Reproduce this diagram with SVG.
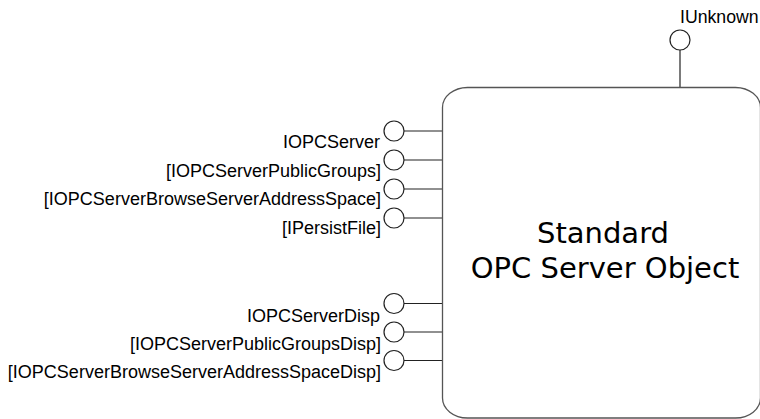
<svg xmlns="http://www.w3.org/2000/svg" width="760" height="419" viewBox="0 0 760 419">
  <style>
    .lbl { font-family: "Liberation Sans", Arial, sans-serif; font-size: 18px; fill: #000; }
    .lbl-r { text-anchor: end; }
    .title { font-family: "DejaVu Sans", Verdana, sans-serif; font-size: 29px; fill: #000; text-anchor: middle; }
    .lollipop { fill: #fff; stroke: #222; stroke-width: 1.2; }
    .wire { stroke: #222; stroke-width: 1.2; fill: none; }
    .body { fill: #fff; stroke: #555; stroke-width: 1.3; }
  </style>
  <rect width="760" height="419" fill="#fff"/>

  <!-- interface stems -->
  <g id="connectors">
    <line class="wire" x1="680" y1="50" x2="680" y2="87.5"/>
    <line class="wire" x1="404" y1="131" x2="442.5" y2="131"/>
    <line class="wire" x1="404" y1="160" x2="442.5" y2="160"/>
    <line class="wire" x1="404" y1="189" x2="442.5" y2="189"/>
    <line class="wire" x1="404" y1="218" x2="442.5" y2="218"/>
    <line class="wire" x1="404" y1="303.5" x2="442.5" y2="303.5"/>
    <line class="wire" x1="404" y1="332" x2="442.5" y2="332"/>
    <line class="wire" x1="404" y1="360.5" x2="442.5" y2="360.5"/>
  </g>

  <!-- server object body -->
  <g id="server-object">
    <rect class="body" x="442.5" y="87.5" width="318" height="330.5" rx="25" ry="20"/>
    <text class="title" x="603" y="243">Standard</text>
    <text class="title" x="605" y="278">OPC Server Object</text>
  </g>

  <g id="iunknown">
    <circle class="lollipop" cx="680" cy="40" r="10"/>
    <text class="lbl" x="680" y="23" style="font-size:17.7px">IUnknown</text>
  </g>

  <g id="iopcserver">
    <circle class="lollipop" cx="394" cy="131" r="10"/>
    <text class="lbl lbl-r" x="380" y="148">IOPCServer</text>
  </g>
  <g id="iopcserverpublicgroups">
    <circle class="lollipop" cx="394" cy="160" r="10"/>
    <text class="lbl lbl-r" x="381" y="176.5">[IOPCServerPublicGroups]</text>
  </g>
  <g id="iopcserverbrowseserveraddressspace">
    <circle class="lollipop" cx="394" cy="189" r="10"/>
    <text class="lbl lbl-r" x="381" y="205">[IOPCServerBrowseServerAddressSpace]</text>
  </g>
  <g id="ipersistfile">
    <circle class="lollipop" cx="394" cy="218" r="10"/>
    <text class="lbl lbl-r" x="381" y="233.5">[IPersistFile]</text>
  </g>

  <g id="iopcserverdisp">
    <circle class="lollipop" cx="394" cy="303.5" r="10"/>
    <text class="lbl lbl-r" x="380" y="321.5">IOPCServerDisp</text>
  </g>
  <g id="iopcserverpublicgroupsdisp">
    <circle class="lollipop" cx="394" cy="332" r="10"/>
    <text class="lbl lbl-r" x="381" y="350">[IOPCServerPublicGroupsDisp]</text>
  </g>
  <g id="iopcserverbrowseserveraddressspacedisp">
    <circle class="lollipop" cx="394" cy="360.5" r="10"/>
    <text class="lbl lbl-r" x="381" y="378">[IOPCServerBrowseServerAddressSpaceDisp]</text>
  </g>
</svg>
